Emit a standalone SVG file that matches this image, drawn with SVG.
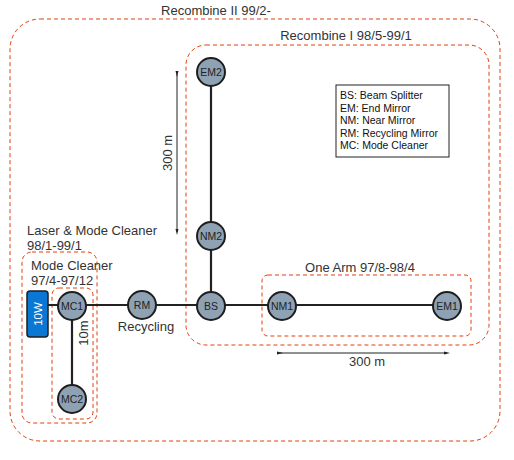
<svg xmlns="http://www.w3.org/2000/svg" width="514" height="460" viewBox="0 0 514 460">
<defs>
<style>
.grp{fill:none;stroke:#e0400c;stroke-width:1;stroke-dasharray:4,3}
.lbl{font-family:"Liberation Sans",Arial,sans-serif;font-size:13px;fill:#333}
.beam{stroke:#222;stroke-width:2.2;fill:none}
.node circle{fill:#8fa2b4;stroke:#1e1e1e;stroke-width:2}
.node text{font-family:"Liberation Sans",Arial,sans-serif;font-size:10.5px;fill:#222;text-anchor:middle}
.dim{stroke:#222;stroke-width:1;fill:none}
.leg{font-family:"Liberation Sans",Arial,sans-serif;font-size:10.5px;fill:#111}
</style>
<marker id="tk" viewBox="0 0 6 6" refX="3" refY="3" markerWidth="6" markerHeight="6" orient="auto"><path d="M0,1.5 L6,3 L0,4.5 Z" fill="#222"/></marker>
</defs>
<rect width="514" height="460" fill="#fff"/>
<g id="groups">
<rect id="recombine2" class="grp" x="10" y="19" width="490" height="422" rx="30"/>
<text class="lbl" x="216" y="15" text-anchor="middle">Recombine II 99/2-</text>
<rect id="recombine1" class="grp" x="186" y="45" width="303" height="300" rx="20"/>
<text class="lbl" x="346" y="40" text-anchor="middle">Recombine I 98/5-99/1</text>
<rect id="laserMC" class="grp" x="22" y="252" width="75" height="171" rx="10"/>
<text class="lbl" x="27" y="235">Laser &amp; Mode Cleaner</text>
<text class="lbl" x="27" y="250">98/1-99/1</text>
<rect id="modecleaner" class="grp" x="52" y="288" width="41" height="131" rx="7"/>
<text class="lbl" x="31" y="270">Mode Cleaner</text>
<text class="lbl" x="31" y="285">97/4-97/12</text>
<rect id="onearm" class="grp" x="262" y="275" width="209" height="61" rx="6"/>
<text class="lbl" x="360" y="272" text-anchor="middle">One Arm 97/8-98/4</text>
</g>
<g id="connectors">
<line class="beam" x1="48" y1="305" x2="447" y2="305"/>
<line class="beam" x1="211" y1="72" x2="211" y2="305"/>
<line class="beam" x1="72" y1="306" x2="72" y2="399"/>
<line class="dim" x1="280" y1="353" x2="447" y2="353" marker-start="url(#tk)" marker-end="url(#tk)"/>
<line class="dim" x1="177" y1="74" x2="177" y2="232" marker-start="url(#tk)" marker-end="url(#tk)"/>
</g>
<text class="lbl" x="367" y="366" text-anchor="middle">300 m</text>
<text class="lbl" transform="translate(172,153) rotate(-90)" text-anchor="middle">300 m</text>
<text class="lbl" x="146" y="331" text-anchor="middle">Recycling</text>
<text class="lbl" transform="translate(88,333) rotate(-90)" text-anchor="middle">10m</text>
<g id="laser10W">
<rect x="27" y="291" width="21" height="46" rx="3" fill="#0a77d4" stroke="#1e1e1e" stroke-width="1.5"/>
<text transform="translate(42,314) rotate(-90)" text-anchor="middle" font-family="Liberation Sans,Arial,sans-serif" font-size="11.5" fill="#fff">10W</text>
</g>
<g id="MC1" class="node"><circle cx="72" cy="306" r="14"/><text x="72" y="310">MC1</text></g>
<g id="MC2" class="node"><circle cx="72" cy="399" r="14"/><text x="72" y="403">MC2</text></g>
<g id="RM" class="node"><circle cx="142" cy="305" r="14"/><text x="142" y="309">RM</text></g>
<g id="BS" class="node"><circle cx="211" cy="306" r="14"/><text x="211" y="310">BS</text></g>
<g id="NM1" class="node"><circle cx="282" cy="306" r="14"/><text x="282" y="310">NM1</text></g>
<g id="EM1" class="node"><circle cx="447" cy="306" r="14"/><text x="447" y="310">EM1</text></g>
<g id="NM2" class="node"><circle cx="211" cy="236" r="14"/><text x="211" y="240">NM2</text></g>
<g id="EM2" class="node"><circle cx="211" cy="72" r="14"/><text x="211" y="76">EM2</text></g>
<g id="legend">
<rect x="336" y="85" width="113" height="72" fill="#fff" stroke="#222" stroke-width="1"/>
<text class="leg" x="340" y="99">BS: Beam Splitter</text>
<text class="leg" x="340" y="111.5">EM: End Mirror</text>
<text class="leg" x="340" y="124">NM: Near Mirror</text>
<text class="leg" x="340" y="136.5">RM: Recycling Mirror</text>
<text class="leg" x="340" y="149">MC: Mode Cleaner</text>
</g>
</svg>
